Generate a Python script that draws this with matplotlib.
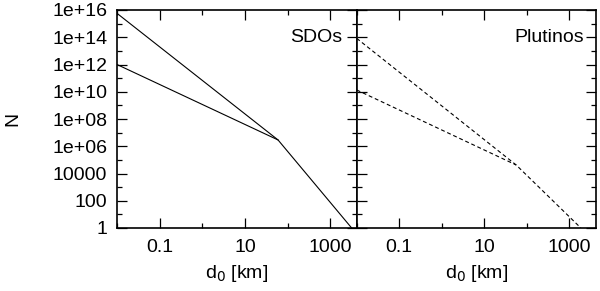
import matplotlib
matplotlib.use("Agg")
import matplotlib.pyplot as plt
from matplotlib.ticker import FixedLocator, NullFormatter

plt.rcParams['font.family'] = ['Liberation Sans', 'DejaVu Sans']

# --- data ---
sdo_steep_d = [0.01, 60, 3200]
sdo_steep_N = [5.7e15, 2.9e6, 1]
sdo_shallow_d = [0.01, 60]
sdo_shallow_N = [1.0e12, 2.9e6]

plu_steep_d = [0.01, 57, 1900]
plu_steep_N = [8.3e13, 4.2e4, 1]
plu_shallow_d = [0.01, 57]
plu_shallow_N = [1.35e10, 4.2e4]

ytick_vals = [1, 1e2, 1e4, 1e6, 1e8, 1e10, 1e12, 1e14, 1e16]
ytick_labels = ["1", "100", "10000", "1e+06", "1e+08", "1e+10", "1e+12", "1e+14", "1e+16"]
yminor_vals = [1e1, 1e3, 1e5, 1e7, 1e9, 1e11, 1e13, 1e15]
xtick_vals = [0.1, 10, 1000]
xtick_labels = ["0.1", "10", "1000"]
xminor_vals = [0.01, 1, 100]
panel_titles = ["SDOs", "Plutinos"]

fig = plt.figure(figsize=(6.0, 2.91), dpi=100)
W, H = 600.0, 291.0
x0, x1, x2 = 117.0, 356.7, 595.5
ytop, ybot = 10.0, 228.0
ax1 = fig.add_axes([x0 / W, 1 - ybot / H, (x1 - x0) / W, (ybot - ytop) / H])
ax2 = fig.add_axes([x1 / W, 1 - ybot / H, (x2 - x1) / W, (ybot - ytop) / H])

fs = 14
for ax in (ax1, ax2):
    ax.set_xscale('log')
    ax.set_yscale('log')
    ax.set_xlim(0.01, 4200)
    ax.set_ylim(1, 1e16)
    ax.xaxis.set_major_locator(FixedLocator(xtick_vals))
    ax.xaxis.set_minor_locator(FixedLocator(xminor_vals))
    ax.xaxis.set_minor_formatter(NullFormatter())
    ax.set_xticks(xtick_vals)
    ax.set_xticklabels(xtick_labels, fontsize=fs)
    ax.yaxis.set_major_locator(FixedLocator(ytick_vals))
    ax.yaxis.set_minor_locator(FixedLocator(yminor_vals))
    ax.yaxis.set_minor_formatter(NullFormatter())
    ax.tick_params(which='major', direction='in', length=7, width=0.9,
                   top=True, right=True, labelsize=fs, pad=8)
    ax.tick_params(which='major', axis='y', pad=7)
    ax.tick_params(which='minor', direction='in', length=3.5, width=0.9,
                   top=True, right=True)
    for s in ax.spines.values():
        s.set_linewidth(1.2)
    ax.set_xlabel(r"d$_0$ [km]", fontsize=fs, labelpad=5)

ax1.set_yticks(ytick_vals)
ax1.set_yticklabels(ytick_labels, fontsize=fs)
ax2.set_yticks(ytick_vals)
ax2.set_yticklabels([])
ax1.set_ylabel("N", fontsize=fs, labelpad=22)

ax1.plot(sdo_steep_d, sdo_steep_N, color='black', lw=0.8)
ax1.plot(sdo_shallow_d, sdo_shallow_N, color='black', lw=0.8)
ax2.plot(plu_steep_d, plu_steep_N, color='black', lw=0.8, dashes=(3.5, 2.5))
ax2.plot(plu_shallow_d, plu_shallow_N, color='black', lw=0.8, dashes=(3.5, 2.5))

ax1.text(0.94, 1e14, panel_titles[0], transform=ax1.get_yaxis_transform(),
         ha='right', va='center', fontsize=fs)
ax2.text(0.952, 1e14, panel_titles[1], transform=ax2.get_yaxis_transform(),
         ha='right', va='center', fontsize=fs)

fig.savefig("out.png", dpi=100)
